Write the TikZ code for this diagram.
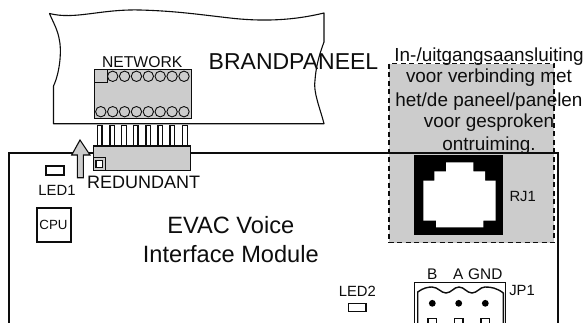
\documentclass[tikz,border=0pt]{standalone}
\usepackage{fontspec}
\setmainfont{Liberation Sans}
\newcommand{\fsz}[1]{\fontsize{#1}{#1}\selectfont}
\definecolor{panelgrey}{gray}{0.8}
\definecolor{ink}{gray}{0.05}
\tikzset{
  thin line/.style={draw=ink,line width=1.1pt},
  heavy line/.style={draw=ink,line width=2.3pt},
  greybox/.style={fill=panelgrey,draw=ink,line width=1.3pt},
  label/.style={inner sep=0pt,anchor=base,text=ink,font=\fsz{#1}},
  ringhole/.style={draw=ink,line width=0.9pt,fill=none},
  pin/.style={fill=white,draw=ink,line width=1.1pt},
}
\begin{document}
\begin{tikzpicture}[x=1pt,y=-1pt]
\useasboundingbox (0,0) rectangle (585,322);
\fill[white] (0,0) rectangle (585,322);
\begin{scope}
\clip (0,0) rectangle (585,322);
% panel outline
\draw[thin line,line join=round] (53.5,123.7) -- (53.5,86)
  .. controls (60,72) and (62,50) .. (59,38)
  .. controls (57,28) and (52,20) .. (49.5,13.5)
  .. controls (75,20) and (100,9) .. (140,10)
  .. controls (175,11) and (195,14) .. (230,18)
  .. controls (265,22) and (295,20) .. (324,13)
  -- (324,42)
  .. controls (318,58) and (316,68) .. (315,80)
  .. controls (313,92) and (320,108) .. (324,123.7)
  -- cycle;
% network block
\path[greybox] (94.7,69.7) rectangle (191.3,118.3);
\path[greybox] (94.7,69.7) rectangle (107.3,82.3);
\foreach \i in {0,...,6} \draw[ringhole] (112.7+\i*11.88,76.3) circle (5.2);
\foreach \i in {0,...,7} \draw[ringhole] (100.8+\i*11.88,111.7) circle (5.2);
% pins
\foreach \px in {99.7,112.3,124,135.7,148.3,160.3,172.3,185}
  \path[pin] (\px-2.3,125.5) rectangle (\px+2.3,147);
% board
\draw[heavy line] (9.3,323) -- (9.3,153.3) -- (558.3,153.3) -- (558.3,323);
% redundant connector
\path[greybox] (93.3,146) rectangle (190.3,170.7);
\path[greybox] (93.3,157.7) rectangle (105.7,170.7);
\path[fill=white,draw=ink,line width=1.1pt] (96,160.3) rectangle (102.7,167.3);
% arrow
\path[fill=panelgrey,draw=ink,line width=1.1pt,line join=miter]
  (80,140) -- (90,155) -- (83.3,155) -- (83.3,177.7) -- (77.3,177.7) -- (77.3,155) -- (71.7,155) -- cycle;
% LEDs
\path[fill=white,draw=ink,line width=1.4pt] (46,166) rectangle (64,175);
\path[fill=white,draw=ink,line width=1.4pt] (348.3,303.3) rectangle (366,311.7);
% CPU
\draw[heavy line] (36.7,208.3) rectangle (71,241.7);
% dashed area
\path[fill=panelgrey,draw=ink,line width=1.1pt,dash pattern=on 5pt off 3.5pt] (389,63.7) rectangle (554,242.7);
\draw[heavy line] (389,153.3) -- (558.3,153.3) -- (558.3,323);
% RJ1
\fill[black] (414,155) rectangle (503,235);
\fill[white] (446,162.3) -- (473.3,162.3) -- (473.3,171.3) -- (485,171.3) -- (485,180.7) -- (495.7,180.7) -- (495.7,220.7) -- (483.3,220.7) -- (483.3,227.3) -- (436,227.3) -- (436,220.7) -- (423.3,220.7) -- (423.3,180.7) -- (434.3,180.7) -- (434.3,171.3) -- (446,171.3) -- cycle;
% JP1
\draw[draw=ink,line width=1.4pt] (414.3,323) -- (414.3,282.3) -- (505.7,282.3) -- (505.7,323);
\draw[draw=ink,line width=1.4pt] (417.7,323) -- (417.7,292)
  .. controls (423,288) and (428,287) .. (432,287)
  .. controls (438,287) and (441,293) .. (446,293)
  .. controls (451,293) and (454,287) .. (459,287)
  .. controls (464,287) and (467,293) .. (472,293)
  .. controls (477,293) and (480,287) .. (485,287)
  .. controls (491,287) and (497,288) .. (503.3,293)
  -- (503.3,323);
\foreach \px in {432.3,458.7,485.3} {
  \fill[black] (\px,303.3) circle (3.4);
  \draw[draw=ink,line width=1.4pt] (\px-4.4,323) -- (\px-4.4,318.3) -- (\px+4.4,318.3) -- (\px+4.4,323);
}
\end{scope}
% labels
\node[label=15.7] (network) at (142.2,67.3) {NETWORK};
\node[label=23] (brand) at (293.5,69.3) {BRANDPANEEL};
\node[label=18] (redundant) at (143.6,188.3) {REDUNDANT};
\node[label=14.8] (led1) at (57,195.7) {LED1};
\node[label=13.3] (cpu) at (53.5,229.7) {CPU};
\node[label=23.6] (evac) at (230.8,233.3) {EVAC Voice};
\node[label=23.6] (iface) at (230.8,262.3) {Interface Module};
\node[label=14.8] (led2) at (357.3,296.7) {LED2};
\node[label=14.8] (rj1) at (522.7,201.7) {RJ1};
\node[label=14.8] (jp1) at (522,295.7) {JP1};
\node[label=15.4] (pb) at (432.3,279.3) {B};
\node[label=15.4] (pa) at (458.3,279.3) {A};
\node[label=15.4] (pgnd) at (485.3,279.3) {GND};
\node[label=18.9] (t1) at (489,61) {In-/uitgangsaansluiting};
\node[label=18.9] (t2) at (489,82.7) {voor verbinding met};
\node[label=18.9] (t3) at (489,106) {het/de paneel/panelen};
\node[label=18.9] (t4) at (489,127.7) {voor gesproken};
\node[label=18.9] (t5) at (489,150) {ontruiming.};
\end{tikzpicture}
\end{document}
